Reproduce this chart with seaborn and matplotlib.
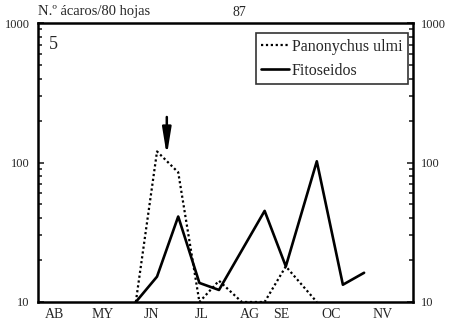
import matplotlib
matplotlib.use("Agg")
import matplotlib.pyplot as plt
import seaborn as sns
import numpy as np
from matplotlib.ticker import FixedLocator, LogLocator, NullFormatter

# Data (x = days from 1 April, y = mites per 80 leaves; zero plotted at axis floor 10)
dias_panonychus = [60, 73, 86, 99, 111, 125, 139, 152, 171]
valores_panonychus = [10, 120, 85, 10, 14.2, 10, 10, 18, 10]
dias_fitoseidos = [60, 73, 86, 99, 111, 139, 152, 171, 187, 200]
valores_fitoseidos = [10, 15.2, 41, 13.7, 12.2, 45, 18, 102, 13.3, 16.2]
meses = ["AB", "MY", "JN", "JL", "AG", "SE", "OC", "NV"]
pos_meses = [10.4, 39.8, 69.8, 100.4, 129.8, 149.4, 180, 211.3]
dia_flecha = 79

sns.set_style("ticks")
plt.rcParams['font.family'] = ['Liberation Serif', 'DejaVu Serif']

fig = plt.figure(figsize=(4.51, 3.27), dpi=100)
ax = fig.add_axes([38/451, 1-302/327, 375/451, 279/327])

sns.lineplot(x=dias_panonychus, y=valores_panonychus, ax=ax, color="black",
             linestyle=(0, (1, 1.2)), linewidth=1.6, label="Panonychus ulmi")
sns.lineplot(x=dias_fitoseidos, y=valores_fitoseidos, ax=ax, color="black",
             linestyle="-", linewidth=1.9, label="Fitoseidos")

ax.set_yscale("log")
ax.set_ylim(10, 1000)
ax.set_xlim(0, 230)

ax.xaxis.set_major_locator(FixedLocator(pos_meses))
ax.set_xticklabels(meses, fontsize=10)
ax.tick_params(axis="x", length=0, pad=4)

ax.yaxis.set_major_locator(FixedLocator([10, 100, 1000]))
ax.set_yticklabels(["10", "100", "1000"], fontsize=9)
ax.yaxis.set_minor_locator(LogLocator(base=10, subs=np.arange(2, 10)))
ax.yaxis.set_minor_formatter(NullFormatter())
ax.tick_params(axis="y", which="both", direction="in", left=True, right=True,
               labelleft=True, labelright=True, width=1.2)
ax.tick_params(axis="y", which="major", length=4, pad=6)
ax.tick_params(axis="y", which="minor", length=3)

for s in ax.spines.values():
    s.set_linewidth(1.8)
    s.set_color("black")
    s.set_visible(True)

ax.set_xlabel("")
ax.set_ylabel("")

leg = ax.legend(loc="upper right", bbox_to_anchor=(408/451, 1-33/327),
                bbox_transform=fig.transFigure, fontsize=11.5,
                frameon=True, fancybox=False, edgecolor="black", handlelength=1.7,
                handletextpad=0.2, borderpad=0.35, labelspacing=0.5,
                borderaxespad=0)
leg.get_frame().set_linewidth(1.2)

ax.text(0.03, 0.955, "5", transform=ax.transAxes, fontsize=13, va="top", ha="left")
fig.text(38/451, 1-12/327, "N.º ácaros/80 hojas", fontsize=10.5, va="center", ha="left")
fig.text(239/451, 1-12/327, "87", fontsize=10, va="center", ha="center")

ax.annotate("", xy=(dia_flecha, 112), xytext=(dia_flecha, 212),
            arrowprops=dict(arrowstyle="-|>,head_length=1.6,head_width=0.26",
                            color="black", lw=1.8, mutation_scale=10,
                            shrinkA=0, shrinkB=0))

fig.savefig("out.png", dpi=100)
